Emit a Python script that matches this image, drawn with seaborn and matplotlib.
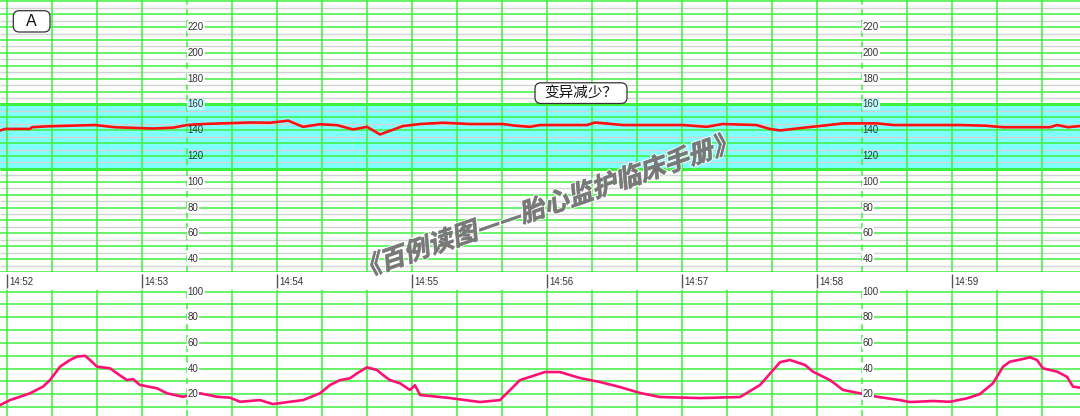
import numpy as np
import pandas as pd
import matplotlib
matplotlib.use("Agg")
import matplotlib.pyplot as plt
import seaborn as sns
from matplotlib.patches import FancyBboxPatch, PathPatch
from matplotlib.textpath import TextPath
from matplotlib.font_manager import FontProperties
from matplotlib.transforms import Affine2D

# seconds after 14:52:00
fhr_time = [-3.1, -0.9, 10.2, 11.1, 18.2, 39, 48, 65, 74, 80, 87, 108, 117, 125, 131.6,
            139, 146.7, 153.8, 160, 165.8, 176, 183.6, 193.8, 205.8, 220.4, 225.8, 232.4,
            236.9, 257.8, 261.3, 273.8, 300.4, 311, 318, 333, 339, 343.6, 352.4, 362.7,
            371.6, 386.7, 393.8, 423.6, 434.7, 442.7, 463.6, 466.7, 471.6, 476.9]
fhr_bpm = [139.7, 141, 141, 142.3, 143, 144, 142.3, 141.3, 142, 144, 144.8, 146, 145.8, 147.4, 142.6,
           144.6, 143.9, 140.6, 142.6, 136.7, 143.2, 144.8, 145.8, 144.8, 144.8, 143.5, 142.6,
           144, 144, 146, 144, 144, 142.6, 144.8, 144, 141, 139.8, 141.6, 143.5,
           145.3, 145.3, 144, 144, 143.5, 142.3, 142.3, 144, 142.3, 143.2]

uc_time = [-3.1, 1.3, 5.8, 10.2, 16, 19.1, 23.6, 28, 31.1, 34.7, 36.9, 40, 45.8, 48.9, 53.3,
           56, 59.1, 66.7, 71.1, 78.2, 85.8, 93.3, 99.1, 103.6, 112.4, 118.2, 125.8, 131.6,
           139.1, 143.6, 148, 152.4, 155.6, 160, 164.4, 167.1, 170.2, 174.7, 179.1, 181.3,
           183.6, 196.9, 210.2, 219.1, 228, 239.1, 245.8, 254.7, 263.6, 272.4, 281.3, 290.2,
           308, 325.8, 334.7, 343.6, 348, 354.7, 358.2, 365.8, 371.6, 379.1, 386.7, 396.9,
           401.3, 411.6, 419.1, 426.7, 432.4, 438.2, 442.7, 445.8, 451.6, 454.7, 457.8,
           460.4, 466.7, 471.1, 473.8, 476.9]
uc_val = [11.5, 15.4, 18, 20.7, 25.9, 31, 41.5, 46.7, 49.3, 50, 46.7, 41.5, 40.2, 36.3, 31,
          31.8, 27.2, 24.6, 20.7, 18, 20.7, 18, 17.3, 14.1, 15.4, 12.3, 14.1, 15.4,
          20.7, 27.2, 31, 32.4, 36.3, 41, 38.9, 35, 31, 28.5, 23.3, 27,
          19.4, 17, 13.9, 15.4, 31, 37.3, 37.3, 32.6, 29.5, 25.6, 21, 17.8,
          17, 17.8, 27.2, 45, 46.7, 42.8, 37.6, 31, 23.3, 20.7, 18, 15.4,
          13.9, 14.7, 14.1, 16.8, 20.1, 28.5, 41.5, 45.4, 47.5, 48.8, 46.7,
          40.2, 37.6, 33.6, 25.9, 25.1]

minute_labels = ["14:52", "14:53", "14:54", "14:55", "14:56", "14:57", "14:58", "14:59"]
fhr_labels = [220, 200, 180, 160, 140, 120, 100, 80, 60, 40]
uc_labels = [100, 80, 60, 40, 20]
label_cols = [80, 380]
band = (110, 160)

XMIN, XMAX = -3.1, 476.9
GREEN = "#3ef03e"
GRAY = "#d2d2d2"

sns.set_style("white")
plt.rcParams["font.family"] = ["Liberation Sans", "Noto Sans CJK SC", "DejaVu Sans"]

fig = plt.figure(figsize=(10.8, 4.16), dpi=100)
H = 416.0
ax_top = fig.add_axes([0, 1 - 272 / H, 1, 272 / H])
ax_mid = fig.add_axes([0, 1 - 290 / H, 1, 18 / H])
ax_bot = fig.add_axes([0, 0, 1, 1 - 290 / H])

vgrid = [t for t in range(0, 461, 20) if t not in label_cols]


def paper(ax, ylo, yhi, major, minor):
    ax.set_xlim(XMIN, XMAX)
    ax.set_ylim(ylo, yhi)
    ax.set_xticks([])
    ax.set_yticks([])
    for s in ax.spines.values():
        s.set_visible(False)
    if len(minor):
        ax.hlines(minor, XMIN, XMAX, color=GRAY, lw=1.0, zorder=0.8)
    ax.hlines(major, XMIN, XMAX, color=GREEN, lw=1.1, zorder=1)
    ax.vlines(vgrid, ylo, yhi, color=GREEN, lw=1.1, zorder=1)
    ax.vlines(label_cols, ylo, yhi, color=GREEN, lw=1.1, zorder=1, linestyles=(0, (4, 3)))


paper(ax_top, 30, 241, np.arange(30, 241, 10), np.arange(35, 241, 10))
ax_top.axhspan(*band, color="#80ffff", zorder=0.5, lw=0)
ax_top.hlines(band, XMIN, XMAX, color=GREEN, lw=2.2, zorder=1.2)
paper(ax_bot, 3, 101.3, np.arange(10, 101, 10), [])

fhr = pd.DataFrame({"t": fhr_time, "bpm": fhr_bpm})
uc = pd.DataFrame({"t": uc_time, "val": uc_val})
sns.lineplot(data=fhr, x="t", y="bpm", ax=ax_top, color="#ff1010", lw=1.9, zorder=3)
sns.lineplot(data=uc, x="t", y="val", ax=ax_bot, color="#ff1075", lw=1.9, zorder=3)
for ax in (ax_top, ax_bot):
    ax.set_xlabel("")
    ax.set_ylabel("")

# in-chart scale labels
for col in label_cols:
    for v in fhr_labels:
        inside = band[0] <= v < band[1]
        bb = None if inside else dict(fc="#c0ffff" if v == band[1] else "white", ec="none", pad=0.6)
        ax_top.text(col + 0.3, v, str(v), ha="left", va="center", fontsize=7,
                    color="#333333", bbox=bb, zorder=4)
    for v in uc_labels:
        ax_bot.text(col + 0.3, v, str(v), ha="left", va="center", fontsize=7,
                    color="#333333", bbox=dict(fc="white", ec="none", pad=0.6), zorder=4)

# time strip
ax_mid.set_xlim(XMIN, XMAX)
ax_mid.set_ylim(0, 1)
ax_mid.axis("off")
mins = [60 * i for i in range(len(minute_labels))]
ax_mid.vlines(mins, 0.12, 0.88, color="#555555", lw=1.0)
for m, lab in zip(mins, minute_labels):
    ax_mid.text(m + 1.2, 0.45, lab, ha="left", va="center", fontsize=7, color="#333333")

# rounded label boxes (inches)
for (x0, y0, w, h), txt, fs in [((0.133, 3.84, 0.367, 0.213), "A", 11.5),
                                ((5.35, 3.125, 0.92, 0.207), "变异减少？", 10.5)]:
    fig.patches.append(FancyBboxPatch((x0, y0), w, h, boxstyle="round,pad=0,rounding_size=0.06",
                                      transform=fig.dpi_scale_trans, fc="white", ec="#333333",
                                      lw=0.9, zorder=5))
    fig.text(x0 + w / 2, y0 + h / 2, txt, transform=fig.dpi_scale_trans, ha="center",
             va="center", fontsize=fs, color="#111111", zorder=6)

# slanted watermark
wm = "《百例读图——胎心监护临床手册》"
tp = TextPath((0, 0), wm, size=18.3, prop=FontProperties(family="Noto Sans CJK SC", weight="bold"))
ext = tp.get_extents()
tr = (Affine2D().translate(-(ext.x0 + ext.x1) / 2, -(ext.y0 + ext.y1) / 2)
      .skew_deg(14, 0).rotate_deg(19).scale(1 / 72.0).translate(5.48, (H - 204) / 100.0))
fig.patches.append(PathPatch(tp, transform=tr + fig.dpi_scale_trans, fc="none",
                             ec="white", lw=2.0, alpha=0.8, zorder=7))
fig.patches.append(PathPatch(tp, transform=tr + fig.dpi_scale_trans, fc="#6c6c6c",
                             ec="#6c6c6c", lw=0.5, alpha=0.9, zorder=8))

fig.savefig("out.png", dpi=100)
